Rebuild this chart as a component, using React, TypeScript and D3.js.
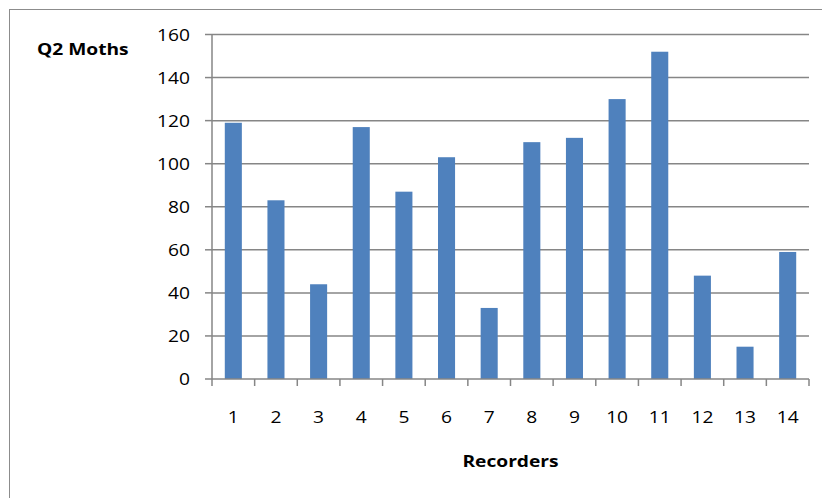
import { useEffect, useRef } from "react";
import * as d3 from "d3";

// Q2 moth counts per recorder
const recorders = ["1", "2", "3", "4", "5", "6", "7", "8", "9", "10", "11", "12", "13", "14"];
const moths = [119, 83, 44, 117, 87, 103, 33, 110, 112, 130, 152, 48, 15, 59];
const yTicks = [0, 20, 40, 60, 80, 100, 120, 140, 160];

const W = 822;
const H = 498;
const STRETCH = 1.2; // text in the reference is stretched horizontally
const FONT = "'Open Sans', sans-serif";

export default function App() {
  const ref = useRef<SVGSVGElement>(null);

  useEffect(() => {
    const svg = d3.select(ref.current);
    svg.selectAll("*").remove();

    const left = 212;
    const right = 809;
    const top = 34.5;
    const bottom = 379;

    const x = d3.scaleBand<string>().domain(recorders).range([left, right]).paddingInner(0.6).paddingOuter(0.3);
    const xBand = d3.scaleBand<string>().domain(recorders).range([left, right]);
    const y = d3.scaleLinear().domain([0, 160]).range([bottom, top]);

    const grey = "#868686";

    // outer chart border (only left/top visible)
    svg
      .append("rect")
      .attr("x", 9.5)
      .attr("y", 9.5)
      .attr("width", W + 20)
      .attr("height", H + 20)
      .attr("fill", "white")
      .attr("stroke", "#8c8c8c")
      .attr("stroke-width", 1);

    const label = (tx: number, ty: number, txt: string, anchor: string, bold = false) =>
      svg
        .append("text")
        .attr("transform", `translate(${tx},${ty}) scale(${STRETCH},1)`)
        .attr("text-anchor", anchor)
        .attr("dominant-baseline", "central")
        .style("font-family", FONT)
        .style("font-size", "16px")
        .style("font-weight", bold ? "700" : "400")
        .style("fill", "#000")
        .text(txt);

    // gridlines
    svg
      .append("g")
      .selectAll("line")
      .data(yTicks.filter((t) => t > 0))
      .enter()
      .append("line")
      .attr("x1", left)
      .attr("x2", right)
      .attr("y1", (d) => y(d))
      .attr("y2", (d) => y(d))
      .attr("stroke", grey)
      .attr("stroke-width", 1.5);

    // bars
    svg
      .append("g")
      .selectAll("rect")
      .data(moths)
      .enter()
      .append("rect")
      .attr("x", (_, i) => x(recorders[i]) as number)
      .attr("width", x.bandwidth())
      .attr("y", (d) => y(d))
      .attr("height", (d) => bottom - y(d))
      .attr("fill", "#4f81bd");

    // y axis
    svg.append("line").attr("x1", left).attr("x2", left).attr("y1", top).attr("y2", bottom).attr("stroke", grey).attr("stroke-width", 1.5);
    yTicks.forEach((t) => {
      svg.append("line").attr("x1", left - 7).attr("x2", left).attr("y1", y(t)).attr("y2", y(t)).attr("stroke", grey).attr("stroke-width", 1.5);
      label(190, y(t), String(t), "end");
    });

    // x axis
    svg.append("line").attr("x1", left).attr("x2", right).attr("y1", bottom).attr("y2", bottom).attr("stroke", grey).attr("stroke-width", 1.5);
    const edges = recorders.map((r) => xBand(r) as number).concat([right]);
    edges.forEach((e) => {
      svg.append("line").attr("x1", e).attr("x2", e).attr("y1", bottom).attr("y2", bottom + 7).attr("stroke", grey).attr("stroke-width", 1.5);
    });
    recorders.forEach((r) => {
      label((xBand(r) as number) + xBand.bandwidth() / 2, 417, r, "middle");
    });

    // titles
    label((left + right) / 2, 461, "Recorders", "middle", true);
    label(37, 49, "Q2 Moths", "start", true);
  }, []);

  return (
    <svg
      ref={ref}
      width={W}
      height={H}
      style={{ position: "absolute", left: 0, top: 0, background: "white" }}
    />
  );
}
